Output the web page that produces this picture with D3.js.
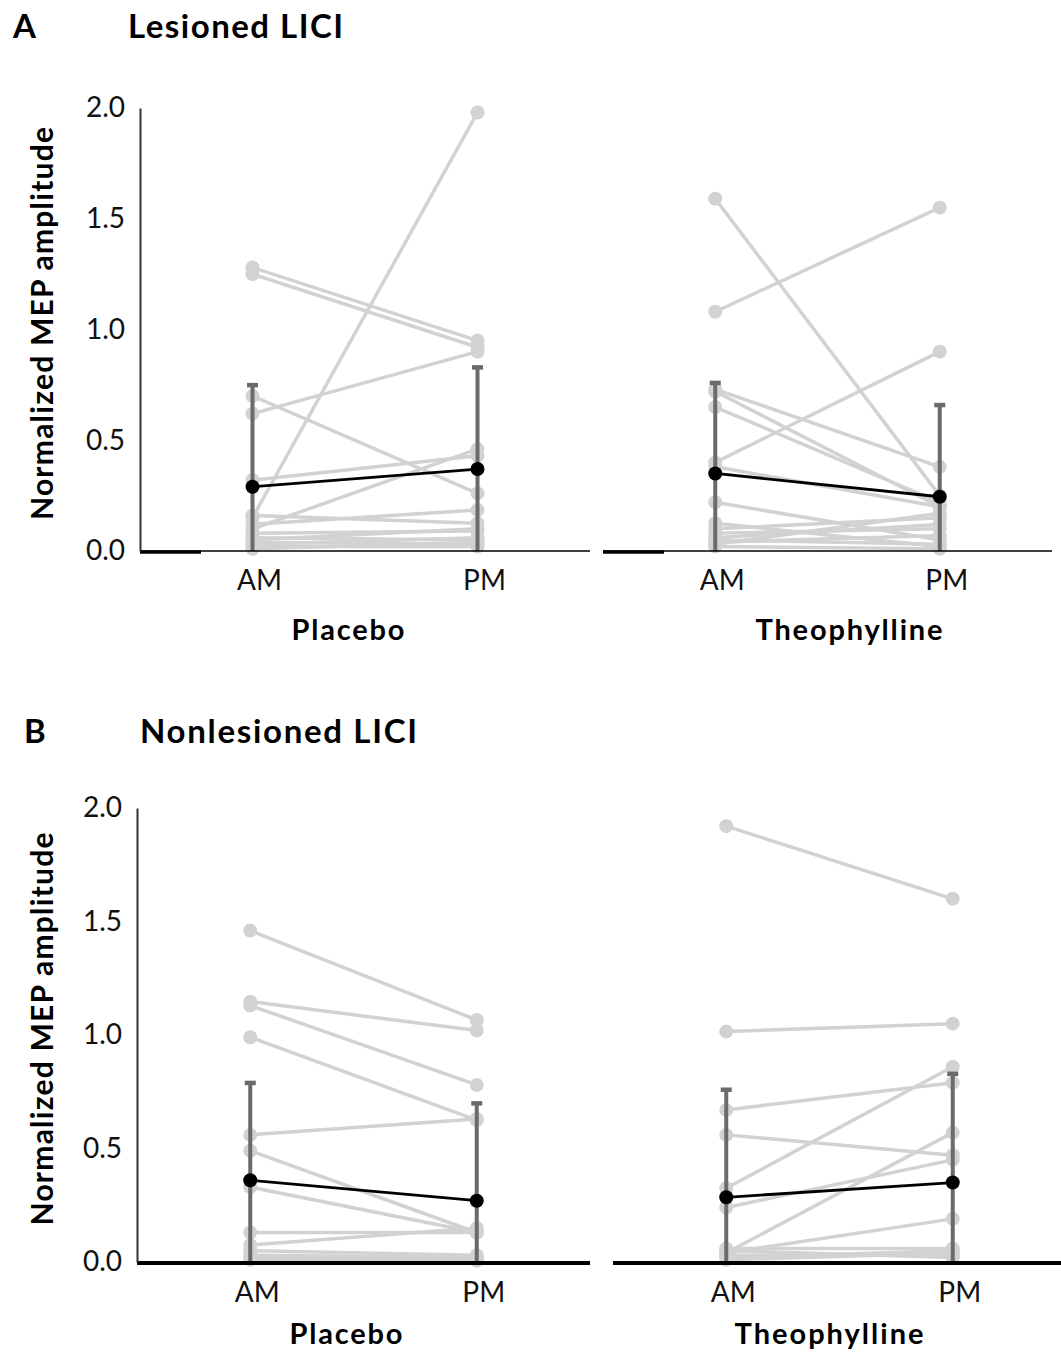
<!DOCTYPE html>
<html>
<head>
<meta charset="utf-8">
<script src="https://cdn.jsdelivr.net/npm/d3@7"></script>
<style>
  body { margin: 0; background: #fff; }
  text { font-family: Lato, "Open Sans", sans-serif; }
</style>
</head>
<body>
<div id="chart"></div>
<script>
// ---- data ----
var times = ["AM", "PM"];
var yTicks = [0, 0.5, 1.0, 1.5, 2.0];

// A: lesioned LICI
var lesPlaceboAM = [1.28, 1.25, 0.70, 0.62, 0.15, 0.32, 0.10, 0.16, 0.12, 0.08, 0.06, 0.05, 0.04, 0.03, 0.02, 0.01];
var lesPlaceboPM = [0.95, 0.92, 0.26, 0.90, 1.98, 0.43, 0.46, 0.125, 0.185, 0.09, 0.05, 0.10, 0.03, 0.06, 0.02, 0.04];
var lesPlaceboMean = [0.29, 0.37];
var lesPlaceboSD = [0.46, 0.46];

var lesTheoAM = [1.59, 1.08, 0.40, 0.73, 0.65, 0.72, 0.38, 0.22, 0.03, 0.125, 0.10, 0.08, 0.06, 0.05, 0.04, 0.02];
var lesTheoPM = [0.25, 1.55, 0.90, 0.38, 0.22, 0.20, 0.20, 0.05, 0.17, 0.02, 0.15, 0.10, 0.12, 0.03, 0.07, 0.01];
var lesTheoMean = [0.35, 0.245];
var lesTheoSD = [0.41, 0.415];

// B: nonlesioned LICI
var nonPlaceboAM = [1.46, 1.147, 1.13, 0.99, 0.56, 0.49, 0.33, 0.13, 0.075, 0.03, 0.01, 0.05, 0.02];
var nonPlaceboPM = [1.066, 1.02, 0.78, 0.625, 0.63, 0.13, 0.13, 0.13, 0.15, 0.02, 0.01, 0.03, 0.005];
var nonPlaceboMean = [0.36, 0.27];
var nonPlaceboSD = [0.43, 0.43];

var nonTheoAM = [1.92, 1.015, 0.67, 0.56, 0.325, 0.24, 0.04, 0.04, 0.06, 0.03, 0.02, 0.05, 0.01];
var nonTheoPM = [1.60, 1.05, 0.79, 0.47, 0.86, 0.45, 0.57, 0.19, 0.06, 0.03, 0.05, 0.02, 0.04];
var nonTheoMean = [0.285, 0.35];
var nonTheoSD = [0.475, 0.48];

var svg = d3.select("#chart")
    .append("svg")
    .attr("width", 1061)
    .attr("height", 1355);

// panel headers
function header(x, y, w, s)
{
    var t = svg.append("text").attr("x", x).attr("y", y)
      .attr("font-size", 33).attr("font-weight", "bold").text(s);
    if (w) t.attr("textLength", w).attr("lengthAdjust", "spacing");
}
header(13, 38, 0, "A");
header(128, 38, 215, "Lesioned LICI");
header(24, 743, 0, "B");
header(140, 743, 277, "Nonlesioned LICI");

var rowA = { top: 108, bottom: 551, amY: 39, labY: 89 };
var rowB = { top: 808, bottom: 1262, amY: 40, labY: 82 };

drawPanel(rowA, [140, 590], "Placebo", 348, 113, lesPlaceboAM, lesPlaceboPM, lesPlaceboMean, lesPlaceboSD, true, false);
drawPanel(rowA, [603, 1052], "Theophylline", 849, 187, lesTheoAM, lesTheoPM, lesTheoMean, lesTheoSD, false, false);
drawPanel(rowB, [137, 590], "Placebo", 346, 113, nonPlaceboAM, nonPlaceboPM, nonPlaceboMean, nonPlaceboSD, true, true);
drawPanel(rowB, [613, 1066], "Theophylline", 829, 189, nonTheoAM, nonTheoPM, nonTheoMean, nonTheoSD, false, true);

function drawPanel(row, xr, label, labX, labW, am, pm, mean, sd, showY, thickAxis)
{
    var x = d3.scalePoint().domain(times).range(xr).padding(0.5);
    var y = d3.scaleLinear().domain([0, 2]).range([row.bottom, row.top]);
    var g = svg.append("g");

    // individual subjects
    var pairs = am.map(function (v, i) { return [v, pm[i]]; });
    g.selectAll(".subj").data(pairs).enter().append("line")
      .attr("x1", x("AM")).attr("y1", function (d) { return y(d[0]); })
      .attr("x2", x("PM")).attr("y2", function (d) { return y(d[1]); })
      .attr("stroke", "#d2d2d2")
      .attr("stroke-width", 3.5);
    times.forEach(function (t, k) {
        var vals = k == 0 ? am : pm;
        g.selectAll(".dot" + t).data(vals).enter().append("circle")
          .attr("cx", x(t)).attr("cy", function (d) { return y(d); })
          .attr("r", 7)
          .attr("fill", "#d2d2d2");
    });

    // error bars
    times.forEach(function (t, k) {
        var hi = mean[k] + sd[k];
        var lo = Math.max(0, mean[k] - sd[k]);
        g.append("line")
          .attr("x1", x(t)).attr("x2", x(t))
          .attr("y1", y(lo)).attr("y2", y(hi))
          .attr("stroke", "#6b6b6b").attr("stroke-width", 4);
        g.append("rect")
          .attr("x", x(t) - 5.5).attr("y", y(hi) - 2)
          .attr("width", 11).attr("height", 4.5)
          .attr("fill", "#6b6b6b");
    });

    // mean line
    g.append("line")
      .attr("x1", x("AM")).attr("y1", y(mean[0]))
      .attr("x2", x("PM")).attr("y2", y(mean[1]))
      .attr("stroke", "#000").attr("stroke-width", 2.8);
    g.selectAll(".mean").data(mean).enter().append("circle")
      .attr("cx", function (d, i) { return x(times[i]); })
      .attr("cy", function (d) { return y(d); })
      .attr("r", 7).attr("fill", "#000");

    // x axis
    if (thickAxis) {
        g.append("line").attr("x1", xr[0]).attr("x2", xr[1])
          .attr("y1", row.bottom + 1).attr("y2", row.bottom + 1)
          .attr("stroke", "#000").attr("stroke-width", 4);
    } else {
        g.append("line").attr("x1", xr[0]).attr("x2", xr[1])
          .attr("y1", row.bottom).attr("y2", row.bottom)
          .attr("stroke", "#000").attr("stroke-width", 1.5);
        g.append("line").attr("x1", xr[0]).attr("x2", xr[0] + 61)
          .attr("y1", row.bottom + 1).attr("y2", row.bottom + 1)
          .attr("stroke", "#000").attr("stroke-width", 3.5);
    }
    g.selectAll(".xl").data(times).enter().append("text")
      .attr("x", function (d) { return x(d) + 7; })
      .attr("y", row.bottom + row.amY)
      .attr("text-anchor", "middle")
      .attr("font-size", 28)
      .attr("fill", "#111")
      .text(function (d) { return d; });
    g.append("text")
      .attr("x", labX)
      .attr("y", row.bottom + row.labY)
      .attr("text-anchor", "middle")
      .attr("font-size", 29)
      .attr("font-weight", "bold")
      .attr("textLength", labW)
      .attr("lengthAdjust", "spacing")
      .text(label);

    // y axis
    if (showY) {
        var ax = g.append("g")
          .attr("transform", "translate(" + xr[0] + ",0)")
          .call(d3.axisLeft(y).tickValues(yTicks).tickSize(0).tickPadding(15).tickFormat(d3.format(".1f")));
        ax.select(".domain").attr("stroke", "#333").attr("stroke-width", 2);
        ax.selectAll(".tick text")
          .attr("font-size", 28)
          .attr("font-family", "Lato, sans-serif")
          .attr("fill", "#111");
        g.append("text")
          .attr("transform", "translate(" + 53 + "," + ((row.top + row.bottom) / 2 - 6) + ") rotate(-90)")
          .attr("text-anchor", "middle")
          .attr("font-size", 30)
          .attr("font-weight", "bold")
          .attr("textLength", 393)
          .attr("lengthAdjust", "spacing")
          .text("Normalized MEP amplitude");
    }
}
</script>
</body>
</html>
